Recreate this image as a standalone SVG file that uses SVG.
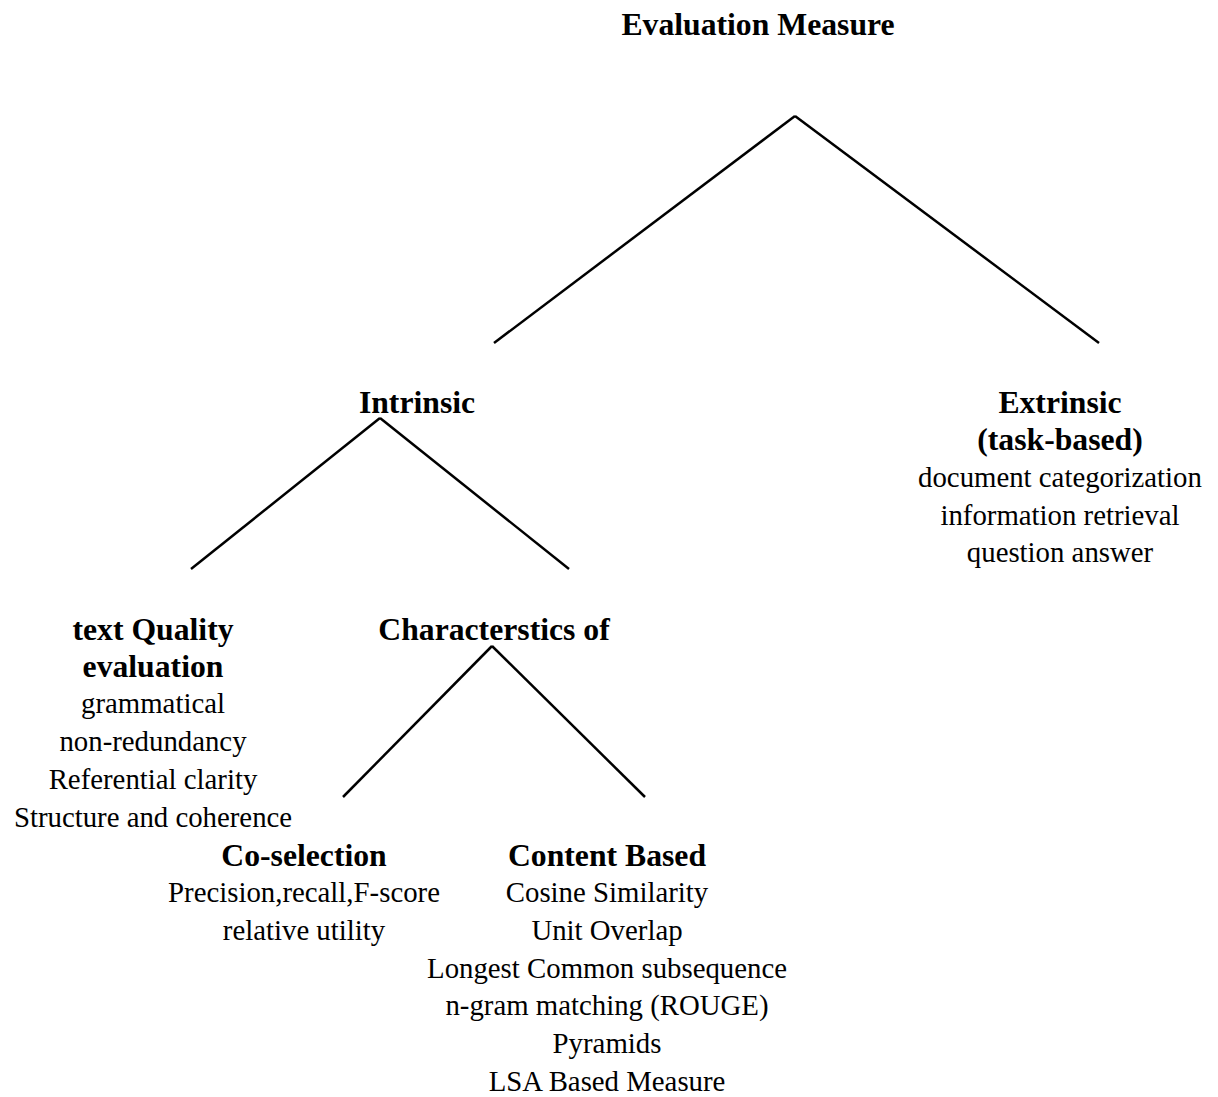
<svg xmlns="http://www.w3.org/2000/svg" width="1218" height="1097" viewBox="0 0 1218 1097">
<style>
text{font-family:"Liberation Serif","Times New Roman",serif;fill:#000;text-anchor:middle}
.b{font-weight:bold;font-size:31.7px}
.n{font-size:28.8px}
line{stroke:#000;stroke-width:2.5;stroke-linecap:butt}
</style>
<rect width="1218" height="1097" fill="#fff"/>
<g id="connectors">
<line x1="795" y1="116" x2="494" y2="343"/>
<line x1="795" y1="116" x2="1099" y2="343"/>
<line x1="380" y1="418" x2="191" y2="569"/>
<line x1="380" y1="418" x2="569" y2="569"/>
<line x1="492" y1="646" x2="343" y2="797"/>
<line x1="492" y1="646" x2="645" y2="797"/>
</g>
<g id="root"><text class="b" x="758" y="35">Evaluation Measure</text></g>
<g id="intrinsic"><text class="b" x="417" y="413">Intrinsic</text></g>
<g id="extrinsic">
<text class="b" x="1060" y="413">Extrinsic</text>
<text class="b" x="1060" y="450">(task-based)</text>
<text class="n" x="1060" y="487">document categorization</text>
<text class="n" x="1060" y="525">information retrieval</text>
<text class="n" x="1060" y="562">question answer</text>
</g>
<g id="text-quality">
<text class="b" x="153" y="640">text Quality</text>
<text class="b" x="153" y="677">evaluation</text>
<text class="n" x="153" y="713">grammatical</text>
<text class="n" x="153" y="751">non-redundancy</text>
<text class="n" x="153" y="789">Referential clarity</text>
<text class="n" x="153" y="827">Structure and coherence</text>
</g>
<g id="characteristics"><text class="b" x="494" y="640">Characterstics of</text></g>
<g id="co-selection">
<text class="b" x="304" y="866">Co-selection</text>
<text class="n" x="304" y="902">Precision,recall,F-score</text>
<text class="n" x="304" y="940">relative utility</text>
</g>
<g id="content-based">
<text class="b" x="607" y="866">Content Based</text>
<text class="n" x="607" y="902">Cosine Similarity</text>
<text class="n" x="607" y="940">Unit Overlap</text>
<text class="n" x="607" y="978">Longest Common subsequence</text>
<text class="n" x="607" y="1015">n-gram matching (ROUGE)</text>
<text class="n" x="607" y="1053">Pyramids</text>
<text class="n" x="607" y="1091">LSA Based Measure</text>
</g>
</svg>
